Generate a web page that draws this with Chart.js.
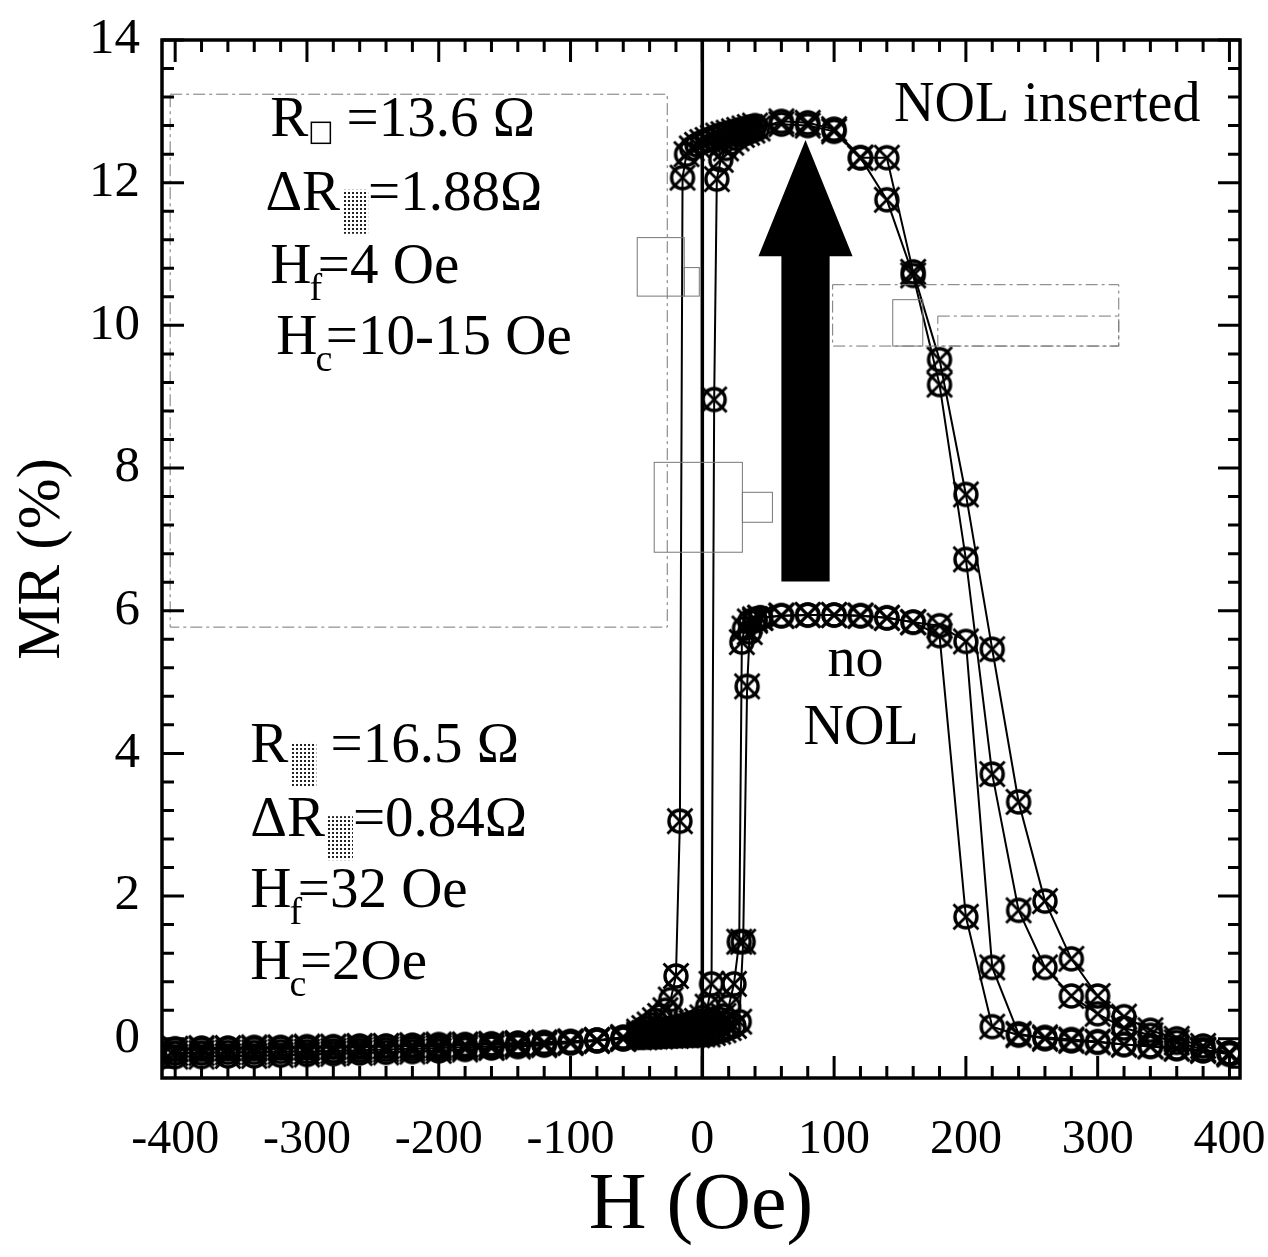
<!DOCTYPE html>
<html>
<head>
<meta charset="utf-8">
<script src="https://cdn.jsdelivr.net/npm/chart.js@4.4.0/dist/chart.umd.min.js"></script>
<style>
  body { margin: 0; background: #fff; }
  #chart { width: 1268px; height: 1257px; }
</style>
</head>
<body>
<div id="chart"></div>
<script>
// ---- data (H in Oe, MR in %) ----
const nolUpH  = [-400,-380,-360,-340,-320,-300,-280,-260,-240,-220,-200,-180,-160,-140,-120,-100,-80,-60,-48,-44,-40,-36,-32,-28,-24,-20,-16,-12,-8,-4,0,4,7,9,11,14,18,22,26,30,34,38,42,60,80,100,120,140,160,180,200,220,240,260,280,300,320,340,360,380,400]
const nolUpMR = [-0.2,-0.2,-0.19,-0.19,-0.18,-0.18,-0.17,-0.16,-0.15,-0.14,-0.13,-0.12,-0.11,-0.09,-0.07,-0.05,-0.02,0.02,0.06,0.08,0.1,0.12,0.13,0.14,0.15,0.16,0.18,0.2,0.22,0.25,0.3,0.45,0.77,8.96,12.05,12.32,12.48,12.56,12.62,12.67,12.7,12.73,12.76,12.86,12.84,12.75,12.35,12.35,10.75,9.52,7.63,5.46,3.32,1.93,1.12,0.6,0.31,0.12,0.0,-0.1,-0.2]

const nolDownH  = [400,380,360,340,320,300,280,260,240,220,200,180,160,140,120,100,80,60,40,36,32,28,24,20,16,12,8,4,0,-4,-8,-12,-15,-17,-20,-24,-28,-32,-36,-40,-44,-48,-60,-80,-100,-120,-140,-160,-180,-200,-220,-240,-260,-280,-300,-320,-340,-360,-380,-400]
const nolDownMR = [-0.22,-0.15,-0.05,0.05,0.15,0.35,0.6,1.0,1.8,3.71,6.72,9.17,10.7,11.76,12.35,12.72,12.8,12.82,12.8,12.78,12.76,12.74,12.72,12.7,12.68,12.66,12.63,12.6,12.57,12.53,12.48,12.4,12.07,3.05,0.88,0.55,0.4,0.32,0.26,0.2,0.15,0.1,0.02,-0.03,-0.06,-0.09,-0.11,-0.13,-0.15,-0.17,-0.18,-0.19,-0.2,-0.21,-0.22,-0.23,-0.24,-0.24,-0.25,-0.25]

const noUpH  = [-400,-380,-360,-340,-320,-300,-280,-260,-240,-220,-200,-180,-160,-140,-120,-100,-80,-60,-48,-44,-40,-36,-32,-28,-24,-20,-16,-12,-8,-4,0,4,8,12,16,20,24,28,31,34,36,40,44,60,80,100,120,140,160,180,200,220,240,260,280,300,320,340,360,380,400]
const noUpMR = [-0.15,-0.15,-0.14,-0.14,-0.13,-0.13,-0.12,-0.12,-0.11,-0.1,-0.1,-0.09,-0.08,-0.07,-0.06,-0.04,-0.02,0.0,0.02,0.02,0.03,0.03,0.03,0.04,0.04,0.04,0.05,0.05,0.05,0.05,0.06,0.06,0.08,0.1,0.12,0.15,0.18,0.24,1.36,4.94,5.7,5.86,5.9,5.93,5.94,5.94,5.93,5.9,5.84,5.79,5.57,1.0,0.07,0.0,-0.03,-0.05,-0.08,-0.1,-0.13,-0.16,-0.2]

const noDownH  = [400,380,360,340,320,300,280,260,240,220,200,180,160,140,120,100,80,60,44,40,36,32,30,28,24,20,16,12,8,4,0,-4,-8,-12,-16,-20,-24,-28,-32,-36,-40,-44,-48,-60,-80,-100,-120,-140,-160,-180,-200,-220,-240,-260,-280,-300,-320,-340,-360,-380,-400]
const noDownMR = [-0.2,-0.17,-0.14,-0.11,-0.08,-0.04,-0.01,0.02,0.05,0.17,1.71,5.65,5.84,5.9,5.93,5.94,5.94,5.93,5.9,5.88,5.85,5.75,5.56,1.36,0.77,0.45,0.32,0.28,0.25,0.22,0.2,0.18,0.16,0.14,0.12,0.1,0.09,0.08,0.07,0.06,0.05,0.04,0.03,0.0,-0.02,-0.04,-0.05,-0.06,-0.07,-0.08,-0.08,-0.09,-0.1,-0.1,-0.11,-0.11,-0.12,-0.12,-0.13,-0.13,-0.14]

const xTicks = [-400,-300,-200,-100,0,100,200,300,400]
const yTicks = [0,2,4,6,8,10,12,14]

const serif = "'Liberation Serif', 'Times New Roman', serif"

function pts(hs, ms) { return hs.map((h, i) => ({ x: h, y: ms[i] })) }

// circle with a cross through it, arms sticking out
function makeMarker() {
    const c = document.createElement('canvas')
    c.width = 36; c.height = 36
    const g = c.getContext('2d')
    g.strokeStyle = '#000'
    g.lineWidth = 3.4
    g.beginPath(); g.arc(18, 18, 11, 0, Math.PI * 2); g.stroke()
    g.lineWidth = 2.8
    const d = 12.5
    g.beginPath()
    g.moveTo(18 - d, 18 - d); g.lineTo(18 + d, 18 + d)
    g.moveTo(18 + d, 18 - d); g.lineTo(18 - d, 18 + d)
    g.stroke()
    return c
}
const marker = makeMarker()

function ds(label, hs, ms) {
    return {
        label: label,
        data: pts(hs, ms),
        showLine: true,
        borderColor: '#000',
        borderWidth: 2,
        pointStyle: marker,
        pointRadius: 18,
        tension: 0
    }
}

// dotted grey square used as subscript in the labels
function dotPattern(g) {
    const p = document.createElement('canvas')
    p.width = 4; p.height = 4
    const pg = p.getContext('2d')
    pg.fillStyle = '#fff'; pg.fillRect(0, 0, 4, 4)
    pg.fillStyle = '#222'; pg.fillRect(0, 0, 2, 2)
    return g.createPattern(p, 'repeat')
}

// parts: {t} normal text, {s} subscript text, {box:'sq'|'dot'}
function drawRich(g, x, y, parts, size) {
    let cx = x
    parts.forEach(p => {
        if (p.t !== undefined) {
            g.font = size + 'px ' + serif
            g.fillText(p.t, cx, y)
            cx += g.measureText(p.t).width
        } else if (p.s !== undefined) {
            g.font = Math.round(size * 0.66) + 'px ' + serif
            g.fillText(p.s, cx - 2, y + size * 0.3)
            cx += g.measureText(p.s).width * 0.5
        } else if (p.box === 'sq') {
            g.lineWidth = 1.5
            g.strokeRect(cx + 3, y - 14, 19, 21)
            cx += 24
        } else if (p.box === 'dot') {
            g.fillStyle = dotPattern(g)
            g.fillRect(cx + 2, y - 20, 26, 44)
            g.fillStyle = '#000'
            cx += 28
        }
    })
}

const decorPlugin = {
    id: 'decor',
    afterDatasetsDraw(chart) {
        const g = chart.ctx
        const xs = chart.scales.x, ys = chart.scales.y
        const a = chart.chartArea
        const X = v => xs.getPixelForValue(v)
        const Y = v => ys.getPixelForValue(v)
        g.save()

        // zero-field line
        g.strokeStyle = '#000'
        g.lineWidth = 3.5
        g.beginPath(); g.moveTo(X(0), a.top); g.lineTo(X(0), a.bottom); g.stroke()

        // faint leftover boxes from the scan
        g.strokeStyle = '#777'
        g.lineWidth = 1
        const boxes = [
            [-403.8, 13.24, -26.6, 5.77, true],
            [-49.4, 11.23, -13.7, 10.41, false],
            [-13.7, 10.81, -2.3, 10.41, false],
            [-36.5, 8.08, 30.4, 6.82, false],
            [30.4, 7.66, 53.2, 7.24, false],
            [98.9, 10.57, 316, 9.71, true],
            [144.5, 10.36, 167.3, 9.71, false],
            [178.7, 10.13, 316, 9.71, true]
        ]
        boxes.forEach(b => {
            g.setLineDash(b[4] ? [12, 4, 3, 4] : [])
            g.strokeRect(X(b[0]), Y(b[1]), X(b[2]) - X(b[0]), Y(b[3]) - Y(b[1]))
        })
        g.setLineDash([])

        // big arrow
        const ac = 78.3, tip = 12.6, hb = 10.97, bot = 6.41, hw = 35.7, sw = 18.3
        g.fillStyle = '#000'
        g.beginPath()
        g.moveTo(X(ac), Y(tip))
        g.lineTo(X(ac + hw), Y(hb))
        g.lineTo(X(ac + sw), Y(hb))
        g.lineTo(X(ac + sw), Y(bot))
        g.lineTo(X(ac - sw), Y(bot))
        g.lineTo(X(ac - sw), Y(hb))
        g.lineTo(X(ac - hw), Y(hb))
        g.closePath()
        g.fill()

        // labels
        g.fillStyle = '#000'
        g.strokeStyle = '#000'
        g.textAlign = 'left'
        g.textBaseline = 'alphabetic'
        const fs = 57
        drawRich(g, X(-327.8), Y(12.65), [{ t: 'R' }, { box: 'sq' }, { t: ' =13.6 \u03A9' }], fs)
        drawRich(g, X(-331.5), Y(11.62), [{ t: '\u0394R' }, { box: 'dot' }, { t: '=1.88\u03A9' }], fs)
        drawRich(g, X(-327.8), Y(10.6), [{ t: 'H' }, { s: 'f' }, { t: '=4 Oe' }], fs)
        drawRich(g, X(-323.3), Y(9.6), [{ t: 'H' }, { s: 'c' }, { t: '=10-15 Oe' }], fs)

        drawRich(g, X(-343), Y(3.88), [{ t: 'R' }, { box: 'dot' }, { t: ' =16.5 \u03A9' }], fs)
        drawRich(g, X(-343), Y(2.84), [{ t: '\u0394R' }, { box: 'dot' }, { t: '=0.84\u03A9' }], fs)
        drawRich(g, X(-343), Y(1.85), [{ t: 'H' }, { s: 'f' }, { t: '=32 Oe' }], fs)
        drawRich(g, X(-343), Y(0.84), [{ t: 'H' }, { s: 'c' }, { t: '=2Oe' }], fs)

        g.font = '56px ' + serif
        g.fillText('NOL inserted', X(145.5), Y(12.86))
        g.textAlign = 'center'
        g.fillText('no', X(116.3), Y(5.08))
        g.fillText('NOL', X(120.5), Y(4.13))

        // frame
        g.lineWidth = 3.5
        g.strokeRect(a.left, a.top, a.right - a.left, a.bottom - a.top)

        // inward ticks on all four sides
        g.lineWidth = 3
        for (let h = -400; h <= 400; h += 20) {
            const L = h % 100 === 0 ? 22 : 12
            const px = X(h)
            g.beginPath()
            g.moveTo(px, a.bottom); g.lineTo(px, a.bottom - L)
            g.moveTo(px, a.top); g.lineTo(px, a.top + L)
            g.stroke()
        }
        for (let k = -1; k <= 35; k++) {
            const v = k * 0.4
            const L = k % 5 === 0 ? 22 : 12
            const py = Y(v)
            if (py < a.top || py > a.bottom) continue
            g.beginPath()
            g.moveTo(a.left, py); g.lineTo(a.left + L, py)
            g.moveTo(a.right, py); g.lineTo(a.right - L, py)
            g.stroke()
        }
        g.restore()
    }
}

function createChart() {
    const cv = document.createElement('canvas')
    cv.setAttribute('id', 'myChart')
    cv.width = 1268
    cv.height = 1257
    document.getElementById('chart').appendChild(cv)

    new Chart(cv, {
        type: 'scatter',
        data: {
            datasets: [
                ds('NOL up', nolUpH, nolUpMR),
                ds('NOL down', nolDownH, nolDownMR),
                ds('no NOL up', noUpH, noUpMR),
                ds('no NOL down', noDownH, noDownMR)
            ]
        },
        options: {
            responsive: false,
            animation: false,
            layout: { padding: { top: 40, right: 28, left: 0, bottom: 0 } },
            plugins: { legend: { display: false }, tooltip: { enabled: false } },
            scales: {
                x: {
                    type: 'linear',
                    min: -410,
                    max: 408,
                    afterBuildTicks: s => { s.ticks = xTicks.map(v => ({ value: v })) },
                    afterFit: s => { s.height = 179; s.paddingLeft = 0; s.paddingRight = 0 },
                    grid: { display: false, drawTicks: false },
                    border: { display: false },
                    ticks: { color: '#000', padding: 34, maxRotation: 0, font: { family: serif, size: 48 } },
                    title: { display: true, text: 'H (Oe)', color: '#000', padding: { top: 0, bottom: 2 }, font: { family: serif, size: 80 } }
                },
                y: {
                    type: 'linear',
                    min: -0.55,
                    max: 14,
                    afterBuildTicks: s => { s.ticks = yTicks.map(v => ({ value: v })) },
                    afterFit: s => { s.width = 162; s.paddingTop = 0; s.paddingBottom = 0 },
                    grid: { display: false, drawTicks: false },
                    border: { display: false },
                    ticks: { color: '#000', padding: 22, font: { family: serif, size: 51 } },
                    title: { display: true, text: 'MR (%)', color: '#000', padding: { top: 6, bottom: 0 }, font: { family: serif, size: 61 } }
                }
            }
        },
        plugins: [decorPlugin]
    })
}

createChart()
</script>
</body>
</html>
